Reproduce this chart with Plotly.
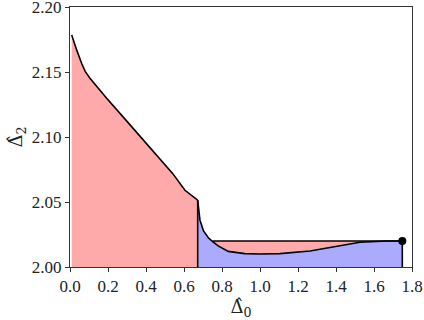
import plotly.graph_objects as go

# upper branch (red region boundary), from the left edge up to the kink
upper_x = [0.009, 0.022, 0.035, 0.061, 0.08, 0.105, 0.15, 0.193, 0.3, 0.4, 0.474, 0.54, 0.605, 0.64, 0.672]
upper_y = [2.1785, 2.1725, 2.167, 2.1567, 2.1505, 2.1452, 2.137, 2.1298, 2.112, 2.095, 2.083, 2.072, 2.059, 2.055, 2.0515]

# lower branch (blue region boundary), from the kink to the end point
lower_x = [0.672, 0.676, 0.684, 0.702, 0.728, 0.751, 0.78, 0.833, 0.92, 1.0, 1.105,
           1.263, 1.386, 1.526, 1.667, 1.749]
lower_y = [2.0515, 2.045, 2.036, 2.028, 2.0225, 2.0195, 2.0162, 2.012, 2.0103, 2.0100, 2.0103,
           2.0123, 2.0156, 2.019, 2.020, 2.020]

# flat plateau branch
flat_x = [0.751, 1.749]
flat_y = [2.020, 2.020]

y_floor = 2.00
RED = "#ffaaaa"
BLUE = "#aaaaff"
FONT = "Liberation Serif"
TITLE_FONT = "DejaVu Serif"

fig = go.Figure()

# red region under the upper branch
fig.add_trace(go.Scatter(x=upper_x, y=upper_y, mode="lines", fill="tozeroy",
                         fillcolor=RED, line=dict(width=0), hoverinfo="skip"))
# red band below the plateau
fig.add_trace(go.Scatter(x=flat_x, y=flat_y, mode="lines", fill="tozeroy",
                         fillcolor=RED, line=dict(width=0), hoverinfo="skip"))
# blue region under the lower branch
fig.add_trace(go.Scatter(x=lower_x, y=lower_y, mode="lines", fill="tozeroy",
                         fillcolor=BLUE, line=dict(width=0), hoverinfo="skip"))

# black outlines
line = dict(color="black", width=1.6)
fig.add_trace(go.Scatter(x=upper_x, y=upper_y, mode="lines", line=line))
fig.add_trace(go.Scatter(x=lower_x, y=lower_y, mode="lines", line=line))
fig.add_trace(go.Scatter(x=flat_x, y=flat_y, mode="lines", line=line))
fig.add_trace(go.Scatter(x=[upper_x[-1], upper_x[-1]], y=[y_floor, upper_y[-1]],
                         mode="lines", line=line))
fig.add_trace(go.Scatter(x=[flat_x[-1], flat_x[-1]], y=[y_floor, flat_y[-1]],
                         mode="lines", line=line))
# end point
fig.add_trace(go.Scatter(x=[flat_x[-1]], y=[flat_y[-1]], mode="markers",
                         marker=dict(color="black", size=8)))

axis = dict(showgrid=False, zeroline=False, showline=True, mirror=True,
            linecolor="#333", linewidth=1, ticks="outside", ticklen=4,
            tickwidth=1, tickcolor="#333", automargin=False,
            ticklabeloverflow="allow",
            tickfont=dict(family=FONT, size=17, color="#222"))

fig.update_layout(
    template="none",
    width=424, height=320,
    margin=dict(l=70, r=12, t=7, b=53),
    plot_bgcolor="white", paper_bgcolor="white",
    font=dict(family=FONT, color="#222"),
    showlegend=False,
    xaxis=dict(axis, range=[0, 1.8], tickvals=[0, 0.2, 0.4, 0.6, 0.8, 1.0, 1.2, 1.4, 1.6, 1.8],
               tickformat=".1f",
               title=dict(text="Δ̂<sub>0</sub>", font=dict(family=TITLE_FONT, size=18, color="#222"),
                          standoff=2)),
    yaxis=dict(axis, range=[2.00, 2.20], tickvals=[2.00, 2.05, 2.10, 2.15, 2.20],
               tickformat=".2f",
               title=dict(text="Δ̂<sub>2</sub>", font=dict(family=TITLE_FONT, size=18, color="#222"),
                          standoff=4)),
)

# drop the default body margin so the figure sits at the window's top-left corner
fig.write_html("out.html", config={"displayModeBar": False},
               post_script="document.body.style.margin='0';")
